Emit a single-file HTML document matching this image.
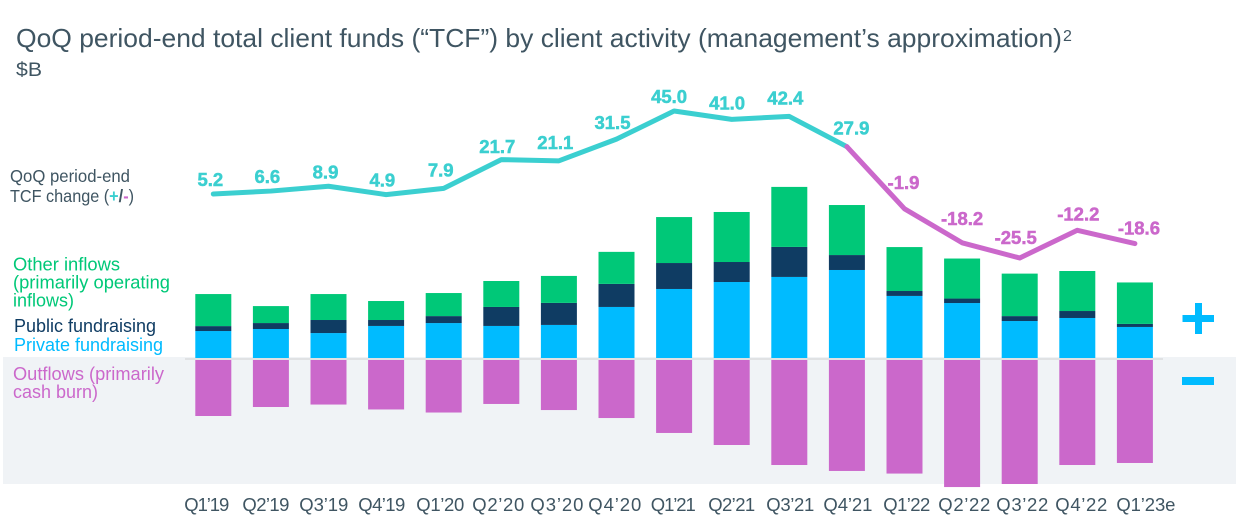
<!DOCTYPE html>
<html lang="en">
<head>
<meta charset="utf-8">
<title>QoQ period-end total client funds</title>
<style>
html,body{margin:0;padding:0;background:#fff;width:1258px;height:530px;overflow:hidden}
svg{display:block}
text{font-family:"Liberation Sans",sans-serif}
</style>
</head>
<body>
<svg id="chart" width="1258" height="530" viewBox="0 0 1258 530" xmlns="http://www.w3.org/2000/svg">
  <rect x="3" y="357" width="1233" height="127" fill="#f0f3f6"/>
  <text x="16" y="47" font-size="26" fill="#3f5562" textLength="1046" lengthAdjust="spacingAndGlyphs">QoQ period-end total client funds (“TCF”) by client activity (management’s approximation)</text>
  <text x="1063" y="41" font-size="16" fill="#3f5562">2</text>
  <text x="16" y="76" font-size="19" fill="#3f5562" textLength="26" lengthAdjust="spacingAndGlyphs">$B</text>

  <text x="10" y="182" font-size="17.5" fill="#3f5562" textLength="120" lengthAdjust="spacingAndGlyphs">QoQ period-end</text>
  <text x="10" y="202" font-size="17.5" fill="#3f5562" textLength="124" lengthAdjust="spacingAndGlyphs">TCF change (<tspan font-weight="bold" fill="#3bcfd0">+</tspan><tspan font-weight="bold">/</tspan><tspan font-weight="bold" fill="#cb68cb">-</tspan>)</text>

  <text x="13" y="270.5" font-size="18" fill="#00c878" textLength="107" lengthAdjust="spacingAndGlyphs">Other inflows</text>
  <text x="13" y="288.5" font-size="18" fill="#00c878" textLength="157" lengthAdjust="spacingAndGlyphs">(primarily operating</text>
  <text x="13" y="306.5" font-size="18" fill="#00c878" textLength="61" lengthAdjust="spacingAndGlyphs">inflows)</text>
  <text x="14" y="332" font-size="18" fill="#0f3c63" textLength="142" lengthAdjust="spacingAndGlyphs">Public fundraising</text>
  <text x="14" y="351" font-size="18" fill="#00bbff" textLength="149" lengthAdjust="spacingAndGlyphs">Private fundraising</text>
  <text x="13" y="380" font-size="18" fill="#cb68cb" textLength="151" lengthAdjust="spacingAndGlyphs">Outflows (primarily</text>
  <text x="13" y="398" font-size="18" fill="#cb68cb" textLength="85" lengthAdjust="spacingAndGlyphs">cash burn)</text>

  <g id="bars"></g>
  <rect x="185" y="358" width="978" height="2" fill="#e0e2e4"/>
  <g id="lines"></g>
  <g id="value-labels"></g>
  <g id="x-labels"></g>

  <g fill="#00bbff">
    <rect x="1182.5" y="315" width="31.5" height="7"/>
    <rect x="1195" y="303" width="7" height="31"/>
  </g>
  <rect x="1182" y="377" width="32" height="8" fill="#00bbff"/>
</svg>
<script>
const categories = ["Q1’19","Q2’19","Q3’19","Q4’19","Q1’20","Q2’20","Q3’20","Q4’20","Q1’21","Q2’21","Q3’21","Q4’21","Q1’22","Q2’22","Q3’22","Q4’22","Q1’23e"];
const privateFunding = [18.6,20.0,17.2,22.1,24.1,22.1,22.8,35.2,47.6,52.4,55.9,60.7,42.8,37.9,25.5,27.6,21.4];
const publicFunding = [3.4,4.1,9.0,4.1,4.8,13.1,15.2,15.9,17.9,13.8,20.7,10.3,3.4,3.1,3.4,4.8,2.1];
const otherInflows = [22.1,11.7,17.9,13.1,15.9,17.9,18.6,22.1,31.7,34.5,41.4,34.5,30.3,27.6,29.3,27.6,28.6];
const outflows = [40.0,33.8,32.1,35.5,37.6,31.7,35.9,41.4,51.7,60.0,73.8,77.9,79.7,89.0,86.9,73.8,72.4];
const tcfChange = [5.2,6.6,8.9,4.9,7.9,21.7,21.1,31.5,45.0,41.0,42.4,27.9,-1.9,-18.2,-25.5,-12.2,-18.6];
const lastPositiveIndex = 11;

const NS = "http://www.w3.org/2000/svg";
const COLORS = {priv:"#00bbff", pub:"#0f3c63", other:"#00c878", out:"#cb68cb", line:"#3bcfd0"};
const BAR_W = 36;
const xAt = i => 213.3 + i * 57.6;
const yBar = v => 358 - v * 1.45;
const yOut = v => 359.5 + (v * 1.45 - 1.5);
const yLine = v => 111 + (45 - v) * 2.085;
const labelDx = [-3,-3.6,-3,-3.8,-3,-4,-3.6,-4,-5,-4.6,-4,4.5,-1,0,-4,1,4];
const labelDy = [-8,-8,-8,-8,-12,-6.5,-12,-10,-8,-10,-12,-12,-20,-18,-14,-10,-9];
const tickDx = [-6.5,-5,-4.7,-4.3,-3.4,-3,-2,-1.7,-0.8,0,1,1,2.3,2.2,2.6,4,11];
const tickW = [45,47,49,47,48,52,53,53,45,47,48,49,47,52,52,52,59];

function add(parent, tag, attrs, text) {
  const el = document.createElementNS(NS, tag);
  for (const k in attrs) el.setAttribute(k, attrs[k]);
  if (text !== undefined) el.textContent = text;
  parent.appendChild(el);
  return el;
}

const barsG = document.getElementById("bars");
categories.forEach((c, i) => {
  const x = xAt(i) - BAR_W / 2;
  const t1 = yBar(privateFunding[i]);
  const t2 = yBar(privateFunding[i] + publicFunding[i]);
  const t3 = yBar(privateFunding[i] + publicFunding[i] + otherInflows[i]);
  const a = add(barsG, "rect", {x:x, y:t1, width:BAR_W, height:358 - t1, fill:COLORS.priv});
  
  
  const b = add(barsG, "rect", {x:x, y:t2, width:BAR_W, height:t1 - t2, fill:COLORS.pub});
  
  
  const g = add(barsG, "rect", {x:x, y:t3, width:BAR_W, height:t2 - t3, fill:COLORS.other});
  
  
  const o = add(barsG, "rect", {x:x, y:358, width:BAR_W, height:yOut(outflows[i]) - 358, fill:COLORS.out});
  
  

  const tick = add(document.getElementById("x-labels"), "text", {x:xAt(i) + tickDx[i] - tickW[i] / 2, y:511, "font-size":18.5, fill:"#3f5562", textLength:tickW[i], lengthAdjust:"spacing"}, c);
  
  
});

const linesG = document.getElementById("lines");
function pts(from, to) {
  const out = [];
  for (let i = from; i <= to; i++) out.push(xAt(i) + "," + yLine(tcfChange[i]));
  return out.join(" ");
}
const posLine = add(linesG, "polyline", {points:pts(0, lastPositiveIndex), fill:"none", stroke:COLORS.line, "stroke-width":5, "stroke-linecap":"round", "stroke-linejoin":"round"});


const negLine = add(linesG, "polyline", {points:pts(lastPositiveIndex, tcfChange.length - 1), fill:"none", stroke:COLORS.out, "stroke-width":5, "stroke-linecap":"round", "stroke-linejoin":"round"});



const labelsG = document.getElementById("value-labels");
tcfChange.forEach((v, i) => {
  const col = v >= 0 ? COLORS.line : COLORS.out;
  const t = add(labelsG, "text", {x:xAt(i) + labelDx[i], y:yLine(v) + labelDy[i], "font-size":18.5, "font-weight":"bold", fill:col, stroke:col, "stroke-width":0.5, "text-anchor":"middle"}, v.toFixed(1));
  
  
});
</script>
</body>
</html>
